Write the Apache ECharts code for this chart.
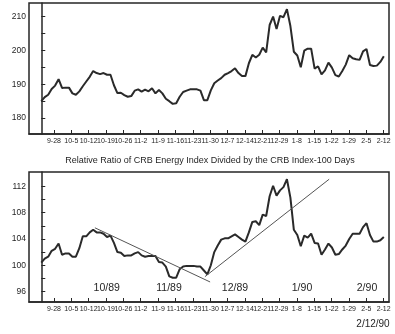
<!DOCTYPE html>
<html>
<head>
<meta charset="utf-8">
<script src="https://cdn.jsdelivr.net/npm/echarts@6/dist/echarts.min.js"></script>
<style>html,body{margin:0;padding:0;background:#fff}#c{width:395px;height:334px}</style>
</head>
<body>
<div id="c"></div>
<script>
// ---- data ----
const tickLabels = ['9-28','10-5','10-12','10-19','10-26','11-2','11-9','11-16','11-23','11-30','12-7','12-14','12-21','12-29','1-8','1-15','1-22','1-29','2-5','2-12'];
const topValues = [185.0,186.2,186.9,188.6,189.6,191.5,188.9,189.0,189.0,187.3,
  186.9,187.9,189.4,190.8,192.2,193.9,193.3,193.0,193.3,192.8,
  192.8,189.7,187.4,187.5,186.8,186.3,186.5,188.1,188.5,187.8,
  188.4,187.9,188.8,187.3,188.3,187.3,185.7,185.0,184.2,184.4,
  186.3,187.7,188.1,188.5,188.5,188.5,188.1,185.3,185.3,188.2,
  190.3,191.1,191.8,192.8,193.3,193.9,194.7,193.3,192.4,192.4,
  196.2,198.7,197.9,198.7,200.8,199.4,207.5,210.0,206.3,210.2,
  209.8,212.2,207.2,199.6,198.5,195.0,199.9,200.5,200.5,194.6,
  195.3,192.9,194.1,196.4,194.9,192.7,192.3,193.9,195.8,198.6,
  197.7,197.4,197.2,199.7,200.4,195.7,195.4,195.5,196.6,198.3];
const ratioValues = [100.4,101.0,101.3,102.2,102.5,103.3,101.6,101.8,101.8,101.3,
  101.3,102.6,104.4,104.4,105.0,105.4,105.0,105.0,104.8,104.3,
  104.5,103.4,102.0,101.9,101.4,101.5,101.5,101.8,102.0,101.5,
  101.3,101.4,101.4,101.4,100.5,100.4,99.8,98.3,98.1,98.1,
  99.4,99.8,99.9,99.9,99.9,99.8,99.8,99.2,98.6,100.0,
  102.0,103.0,103.9,104.1,104.1,104.4,104.7,104.3,103.9,103.6,
  105.0,106.6,106.7,106.1,107.7,107.5,110.5,112.1,110.6,111.4,
  111.9,113.1,110.3,105.4,104.6,102.9,104.5,104.2,104.8,103.4,
  103.3,101.6,102.4,103.3,102.7,101.6,101.7,102.4,103.0,104.0,
  104.8,104.8,104.8,105.8,106.4,104.6,103.6,103.6,103.8,104.3];
const downTrend = [[15.5,105.7],[48.8,97.45]];
const upTrend = [[47.3,98.26],[83.2,113.1]];
const topYTicks = [180,185,190,195,200,205,210];
const topYLabels = [180,190,200,210];
const botYTicks = [96,98,100,102,104,106,108,110,112];
const botYLabels = [96,100,104,108,112];
const monthLabels = ['10/89','11/89','12/89','1/90','2/90'];
const chartTitle = 'Relative Ratio of CRB Energy Index Divided by the CRB Index-100 Days';
const dateNote = '2/12/90';

// ---- layout helpers ----
const tickStart = 3.67, tickStep = 5.015;
const xTickPos = tickLabels.map((_, j) => tickStart + tickStep * j);
const toPairs = arr => arr.map((v, i) => [i, v]);
const FONT = 'Liberation Sans';
const INK = '#262626';

function xAxis(gridIndex) {
  return {
    type: 'value', gridIndex, min: -3.55, max: 100.5,
    axisLine: { show: true, lineStyle: { color: INK, width: 1.5 } },
    splitLine: { show: false },
    axisTick: { show: true, inside: true, length: 4, customValues: xTickPos, lineStyle: { color: INK, width: 1 } },
    axisLabel: {
      customValues: xTickPos, margin: 4, fontSize: 7, fontFamily: FONT, color: INK,
      formatter: v => tickLabels[Math.round((v - tickStart) / tickStep)] || ''
    }
  };
}
function yAxis(gridIndex, min, max, ticks, labels) {
  return {
    type: 'value', gridIndex, min, max,
    axisLine: { show: true, lineStyle: { color: INK, width: 1.5 } },
    splitLine: { show: false },
    axisTick: { show: true, inside: true, length: 4, customValues: ticks, lineStyle: { color: INK, width: 1 } },
    axisLabel: { customValues: labels, margin: 3, fontSize: 8.5, fontFamily: FONT, color: INK }
  };
}

const chart = echarts.init(document.getElementById('c'), null, { renderer: 'canvas' });
const monthX = [106.7, 169, 235, 302, 367];
chart.setOption({
  backgroundColor: '#fff',
  animation: false,
  grid: [
    { left: 29, top: 3, width: 360, height: 131, show: true, borderColor: INK, borderWidth: 1.5, backgroundColor: 'transparent' },
    { left: 29, top: 172, width: 360, height: 130, show: true, borderColor: INK, borderWidth: 1.5, backgroundColor: 'transparent' }
  ],
  xAxis: [xAxis(0), xAxis(1)],
  yAxis: [
    yAxis(0, 175.3, 214, topYTicks, topYLabels),
    yAxis(1, 94.4, 114.2, botYTicks, botYLabels)
  ],
  series: [
    { type: 'line', xAxisIndex: 0, yAxisIndex: 0, data: toPairs(topValues), symbol: 'none',
      lineStyle: { color: '#2a2a2a', width: 2 } },
    { type: 'line', xAxisIndex: 1, yAxisIndex: 1, data: toPairs(ratioValues), symbol: 'none',
      lineStyle: { color: '#2a2a2a', width: 2 } },
    { type: 'line', xAxisIndex: 1, yAxisIndex: 1, data: downTrend, symbol: 'none',
      lineStyle: { color: '#555', width: 1 } },
    { type: 'line', xAxisIndex: 1, yAxisIndex: 1, data: upTrend, symbol: 'none',
      lineStyle: { color: '#555', width: 1 } }
  ],
  graphic: [
    { type: 'text', x: 210, y: 160.5, style: { text: chartTitle, font: '9px ' + FONT, fill: INK, align: 'center', verticalAlign: 'middle' } }
  ].concat(monthLabels.map((m, i) => ({
    type: 'text', x: monthX[i], y: 288, style: { text: m, font: '10.5px ' + FONT, fill: INK, align: 'center', verticalAlign: 'middle' }
  }))).concat([
    { type: 'text', x: 373, y: 324, style: { text: dateNote, font: '10px ' + FONT, fill: INK, align: 'center', verticalAlign: 'middle' } }
  ])
});
</script>
</body>
</html>
